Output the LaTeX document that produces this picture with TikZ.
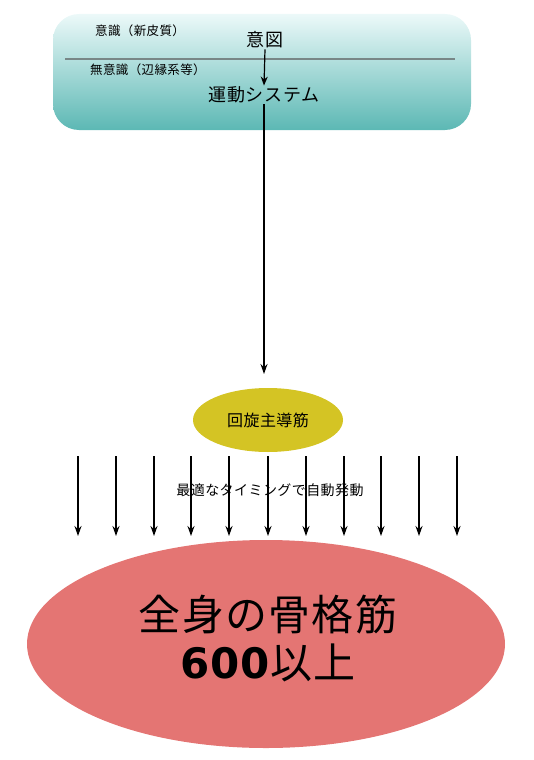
\documentclass[tikz,border=0pt]{standalone}
\usepackage{fontspec}
\setmainfont{Noto Sans CJK JP}[LetterSpace=3]
\newfontfamily\latinbold{DejaVu Sans}[LetterSpace=2]
\usetikzlibrary{arrows.meta,shapes.geometric}
\definecolor{toptea}{RGB}{236,249,249}
\definecolor{bottea}{RGB}{92,184,180}
\definecolor{yel}{RGB}{212,196,36}
\definecolor{redf}{RGB}{228,117,115}
\definecolor{sepl}{RGB}{120,135,135}
\tikzset{
  conn/.style={line width=1.4pt,-{Stealth[length=10pt,width=7pt]}},
  lbl/.style={inner sep=0pt,font=\fontsize{12.5}{14}\selectfont},
}
\begin{document}
\begin{tikzpicture}[x=1pt,y=-1pt]
\useasboundingbox (0,0) rectangle (534,760);
% top box
\shade[top color=toptea,bottom color=bottea,rounded corners=26pt] (53,14) rectangle (471,130);
\draw[sepl,line width=1.2pt] (65,59) -- (455,59);
\node[lbl,anchor=west] (cons) at (95,31) {意識（新皮質）};
\node[lbl,anchor=west] (uncons) at (90,70) {無意識（辺縁系等）};
\node[inner sep=1pt,font=\fontsize{18}{20}\selectfont] (intent) at (265,40) {意図};
\node[inner sep=1pt,font=\fontsize{18}{20}\selectfont] (motor) at (264,95) {運動システム};
\draw[line width=1.2pt,-{Stealth[length=9pt,width=7pt]}] (intent.south) -- (motor.north);
% yellow ellipse
\node[ellipse,fill=yel,minimum width=150pt,minimum height=64pt,font=\fontsize{16}{18}\selectfont] (rot) at (268,420) {回旋主導筋};
\draw[conn] (motor.south) -- (264,374);
% arrows
\foreach \x [count=\i] in {78,116,154,191,229,268,306,344,381,419,457}{
  \coordinate (s\i) at (\x,456);
  \coordinate (e\i) at (\x,536);
  \draw[conn] (s\i) -- (e\i);
}
\node[inner sep=0pt,font=\fontsize{14}{16}\selectfont] (auto) at (270,490) {最適なタイミングで自動発動};
% red ellipse
\node[ellipse,fill=redf,minimum width=478pt,minimum height=208pt] (all) at (266,644) {};
\node[align=center,inner sep=0pt,font=\fontsize{42}{48}\selectfont] (alltext) at (268,639) {全身の骨格筋\\{\latinbold\bfseries 600}以上};
\end{tikzpicture}
\end{document}
